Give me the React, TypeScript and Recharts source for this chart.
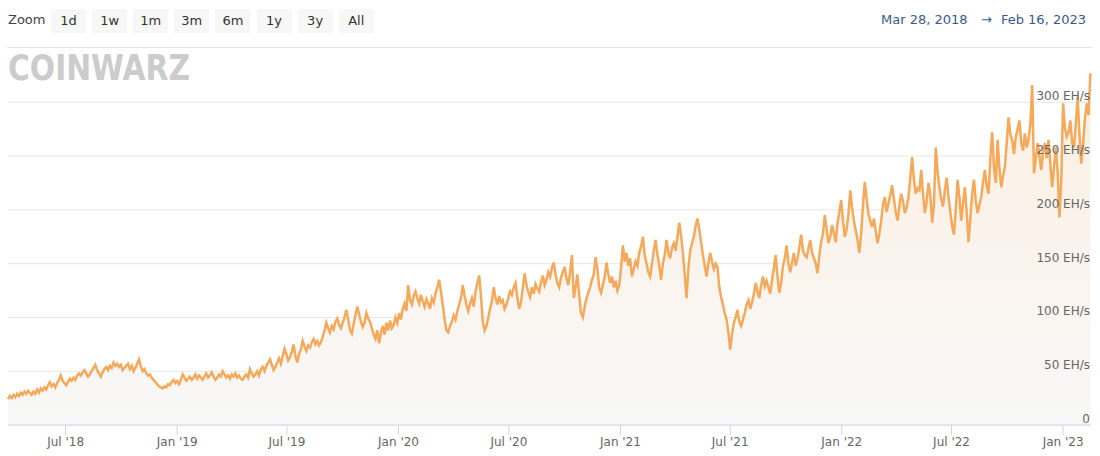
import { AreaChart, Area, XAxis, YAxis, CartesianGrid } from "recharts";

const START = Date.UTC(2018, 2, 28);
const END = Date.UTC(2023, 1, 16);
const DAY = 86400000;
const STEP_DAYS = 3;

// network hashrate (EH/s), one reading every 3 days from Mar 28, 2018
const hashrate = [
  24, 27, 25, 28, 26, 29, 27, 30, 28, 31, 29, 32, 30, 28, 31, 29, 33, 30, 34, 32,
  35, 33, 37, 40, 36, 38, 35, 39, 42, 46, 41, 39, 37, 40, 43, 41, 44, 42, 46, 48,
  46, 49, 51, 48, 45, 47, 50, 53, 56, 51, 48, 45, 49, 52, 54, 51, 55, 53, 58, 55,
  57, 54, 56, 51, 53, 55, 57, 52, 55, 50, 53, 57, 61, 55, 50, 52, 48, 46, 47, 44,
  42, 40, 38, 36, 35, 34, 36, 35, 38, 37, 40, 42, 39, 41, 38, 42, 47, 44, 41, 43,
  45, 42, 44, 47, 43, 46, 44, 42, 45, 48, 44, 46, 49, 45, 42, 44, 47, 45, 50, 47,
  44, 46, 43, 47, 45, 48, 44, 46, 43, 42, 45, 47, 44, 52, 48, 45, 47, 50, 46, 52,
  54, 50, 55, 58, 61, 56, 51, 54, 58, 62, 57, 64, 71, 66, 60, 63, 68, 75, 64, 58,
  66, 70, 78, 73, 69, 74, 72, 77, 80, 75, 78, 74, 77, 82, 88, 95, 90, 86, 92, 89,
  96, 99, 93, 90, 95, 100, 107, 98, 88, 85, 94, 102, 110, 103, 96, 91, 95, 104, 99, 96,
  90, 84, 80, 88, 76, 86, 92, 84, 95, 88, 97, 90, 93, 100, 95, 104, 98, 108, 113, 106,
  130, 116, 112, 120, 124, 118, 113, 121, 115, 110, 117, 113, 108, 118, 114, 122, 128, 135, 124, 112,
  98, 88, 86, 92, 96, 102, 98, 106, 112, 118, 130, 120, 112, 106, 113, 118, 110, 124, 132, 139,
  120, 96, 88, 92, 100, 108, 115, 128, 118, 112, 120, 114, 116, 108, 112, 118, 124, 121, 128, 132,
  118, 108, 114, 128, 141, 130, 124, 119, 128, 122, 131, 127, 124, 133, 139, 130, 135, 142, 138, 146,
  151, 140, 132, 128, 137, 142, 147, 136, 130, 142, 158, 118, 128, 140, 120, 104, 100, 110, 118, 123,
  128, 135, 140, 156, 145, 128, 123, 130, 138, 151, 140, 132, 138, 128, 134, 125, 130, 146, 167, 152,
  160, 148, 155, 138, 145, 152, 148, 160, 166, 175, 158, 150, 142, 138, 150, 162, 172, 158, 148, 135,
  150, 158, 172, 160, 155, 165, 169, 162, 175, 188, 176, 160, 140, 118, 145, 162, 169, 175, 185, 192,
  182, 170, 158, 148, 138, 150, 160, 152, 145, 150, 147, 128, 119, 112, 104, 98, 86, 70, 84, 95,
  100, 107, 96, 92, 98, 104, 112, 116, 108, 114, 122, 132, 124, 118, 130, 138, 129, 134, 128, 122,
  135, 146, 158, 138, 123, 132, 148, 155, 167, 150, 142, 151, 160, 148, 155, 165, 177, 162, 158, 156,
  164, 172, 160, 155, 150, 141, 158, 170, 178, 195, 182, 169, 175, 186, 178, 170, 188, 198, 209, 190,
  175, 182, 196, 218, 202, 190, 181, 172, 160, 178, 205, 226, 210, 196, 190, 184, 192, 180, 169, 178,
  190, 205, 212, 198, 206, 214, 223, 210, 198, 190, 204, 215, 208, 197, 202, 212, 230, 249, 228, 215,
  220, 218, 237, 215, 197, 208, 225, 214, 188, 205, 258, 236, 221, 210, 203, 218, 230, 212, 198, 185,
  177, 200, 228, 212, 190, 206, 221, 198, 170, 192, 215, 228, 208, 197, 205, 212, 226, 237, 222, 215,
  248, 272, 240, 225, 265, 238, 221, 232, 240, 262, 286, 270, 265, 252, 268, 275, 283, 262, 255, 271,
  258, 266, 280, 316, 234, 248, 262, 250, 237, 255, 262, 248, 265, 242, 221, 240, 258, 235, 193, 228,
  299, 276, 268, 272, 283, 262, 258, 280, 305, 270, 243, 262, 285, 299, 288, 327,
];

const xTickDates = [
  "2018-07-01", "2019-01-01", "2019-07-01", "2020-01-01", "2020-07-01",
  "2021-01-01", "2021-07-01", "2022-01-01", "2022-07-01", "2023-01-01",
];
const xTickLabels = [
  "Jul '18", "Jan '19", "Jul '19", "Jan '20", "Jul '20",
  "Jan '21", "Jul '21", "Jan '22", "Jul '22", "Jan '23",
];
const yTicks = [0, 50, 100, 150, 200, 250, 300];
const zoomButtons = ["1d", "1w", "1m", "3m", "6m", "1y", "3y", "All"];

const data = hashrate.map((v, i) => ({ t: START + i * STEP_DAYS * DAY, v }));
const xTicks = xTickDates.map((d) => Date.parse(d + "T00:00:00Z"));

const FONT = "'DejaVu Sans', Verdana, sans-serif";

function XTick({ x, payload }: any) {
  const idx = xTicks.indexOf(payload.value);
  return (
    <text x={x} y={446} textAnchor="middle" fontSize={12} fill="#666" fontFamily={FONT}>
      {xTickLabels[idx]}
    </text>
  );
}

function YTick({ y, payload }: any) {
  const v = payload.value;
  return (
    <text x={1090} y={y - 2} textAnchor="end" fontSize={12} fill="#666" fontFamily={FONT}>
      {v === 0 ? "0" : `${v} EH/s`}
    </text>
  );
}

export default function App() {
  return (
    <div style={{ position: "absolute", left: 0, top: 0, width: 1100, height: 456, background: "#fff", fontFamily: FONT }}>
      <AreaChart width={1100} height={456} data={data} margin={{ top: 70, right: 9, bottom: 0, left: 8 }}>
        <defs>
          <linearGradient id="hrFill" x1="0" y1="0" x2="0" y2="1">
            <stop offset="0%" stopColor="#fcefe2" />
            <stop offset="100%" stopColor="#f8f8f8" />
          </linearGradient>
        </defs>
        <CartesianGrid horizontal vertical={false} stroke="#e6e6e6" syncWithTicks />
        <XAxis
          dataKey="t"
          type="number"
          domain={[START, END]}
          ticks={xTicks}
          height={31}
          tickSize={10}
          axisLine={{ stroke: "#ccd6eb" }}
          tickLine={{ stroke: "#ccd6eb" }}
          tick={<XTick />}
          interval={0}
        />
        <YAxis
          orientation="right"
          mirror
          domain={[0, 330]}
          ticks={yTicks}
          axisLine={false}
          tickLine={false}
          tick={<YTick />}
          interval={0}
        />
        <Area
          type="linear"
          dataKey="v"
          stroke="#f4a95b"
          strokeWidth={2.5}
          fill="url(#hrFill)"
          fillOpacity={1}
          dot={false}
          activeDot={false}
          isAnimationActive={false}
        />
      </AreaChart>

      {/* range selector */}
      <div style={{ position: "absolute", left: 8, top: 12, fontSize: 13, color: "#444" }}>Zoom</div>
      {zoomButtons.map((b, i) => (
        <div
          key={b}
          style={{
            position: "absolute",
            left: 51 + i * 41.1,
            top: 9,
            width: 35,
            height: 24,
            lineHeight: "24px",
            background: "#f7f7f7",
            textAlign: "center",
            fontSize: 13,
            color: "#333",
          }}
        >
          {b}
        </div>
      ))}
      <div style={{ position: "absolute", left: 881, top: 12, fontSize: 13, color: "#3b5a8a", whiteSpace: "pre" }}>
        Mar 28, 2018
      </div>
      <div style={{ position: "absolute", left: 981, top: 12, fontSize: 13, color: "#3b5a8a" }}>→</div>
      <div style={{ position: "absolute", right: 14, top: 12, fontSize: 13, color: "#3b5a8a", whiteSpace: "pre" }}>
        Feb 16, 2023
      </div>
      <div style={{ position: "absolute", left: 7, top: 47, width: 1086, height: 1, background: "#e6e6e6" }} />

      {/* watermark */}
      <svg style={{ position: "absolute", left: 0, top: 48 }} width={200} height={40}>
        <text
          x={8}
          y={32}
          fontSize={35}
          fontWeight={900}
          fontFamily="'DejaVu Sans Condensed', 'DejaVu Sans', sans-serif"
          fill="#cccccc"
          textLength={182}
          lengthAdjust="spacingAndGlyphs"
        >
          COINWARZ
        </text>
      </svg>
    </div>
  );
}
